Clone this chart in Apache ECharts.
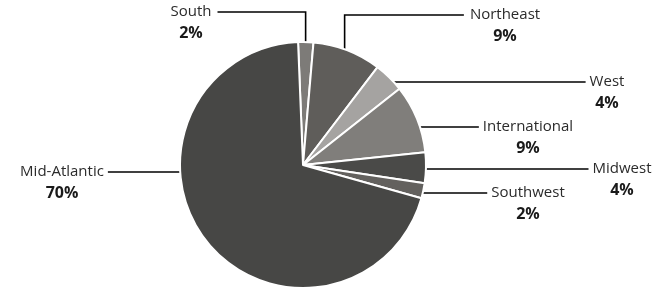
<!DOCTYPE html>
<html>
<head>
<meta charset="utf-8">
<script src="https://cdn.jsdelivr.net/npm/echarts@6/dist/echarts.min.js"></script>
<style>
  html, body { margin: 0; padding: 0; background: #fff; }
  #chart { width: 671px; height: 290px; }
</style>
</head>
<body>
<div id="chart"></div>
<script>
// data, clockwise from the top
const regions = ["South", "Northeast", "West", "International", "Midwest", "Southwest", "Mid-Atlantic"];
const shares = [2, 9, 4, 9, 4, 2, 70];

const sliceColors = ["#7d7b78", "#5f5d5a", "#a5a3a1", "#807e7b", "#4a4a48", "#63615e", "#474745"];
// where each label sits: centre x, y of the name line, leader type (v = elbow down into slice, h = straight)
const labelSpots = [
  [191, 12, "v"],
  [505, 15, "v"],
  [607, 82, "h"],
  [528, 127, "h"],
  [622, 169, "h"],
  [528, 193, "h"],
  [62, 172, "h"],
];

const CX = 303, CY = 165, R = 123;
const START = -2.3; // degrees clockwise from 12 o'clock
const LH = 21;

const total = shares.reduce((a, b) => a + b, 0);
const midAngles = [];
let acc = 0;
shares.forEach((v) => {
  midAngles.push(START + ((acc + v / 2) / total) * 360);
  acc += v;
});

const chart = echarts.init(document.getElementById("chart"));
chart.setOption({
  animation: false,
  series: [
    {
      type: "pie",
      center: [CX, CY],
      radius: R,
      startAngle: 90 - START,
      clockwise: true,
      avoidLabelOverlap: false,
      itemStyle: { borderColor: "#fff", borderWidth: 2 },
      emphasis: { disabled: true },
      label: {
        show: true,
        formatter: (p) => "{n|" + p.name + "}\n{v|" + p.value + "%}",
        rich: {
          n: { fontFamily: "Open Sans", fontSize: 15, color: "#2b2b2b", lineHeight: LH, align: "center" },
          v: { fontFamily: "Open Sans", fontSize: 16, fontWeight: "bold", color: "#1a1a1a", lineHeight: LH, align: "center" },
        },
      },
      labelLine: { show: true, lineStyle: { color: "#000", width: 1.6 } },
      labelLayout: (params) => {
        const i = params.dataIndex;
        const [lx, ny, kind] = labelSpots[i];
        const a = (midAngles[i] * Math.PI) / 180;
        const rIn = R * 0.94;
        const halfW = params.labelRect.width / 2;
        let pts;
        if (kind === "v") {
          const ax = CX + rIn * Math.sin(a);
          const ay = CY - rIn * Math.cos(a);
          const edge = lx < ax ? lx + halfW + 6 : lx - halfW - 6;
          pts = [[ax, ay], [ax, ny], [edge, ny]];
        } else {
          const dy = ny - CY;
          const dx = Math.sqrt(Math.max(rIn * rIn - dy * dy, 0));
          const right = lx > CX;
          const ax = right ? CX + dx : CX - dx;
          const edge = right ? lx - halfW - 4 : lx + halfW + 4;
          pts = [[ax, ny], [edge, ny]];
        }
        return {
          x: lx,
          y: ny - LH / 2,
          align: "center",
          verticalAlign: "top",
          labelLinePoints: pts,
        };
      },
      data: regions.map((name, i) => ({
        name: name,
        value: shares[i],
        itemStyle: { color: sliceColors[i] },
      })),
    },
  ],
});
</script>
</body>
</html>
